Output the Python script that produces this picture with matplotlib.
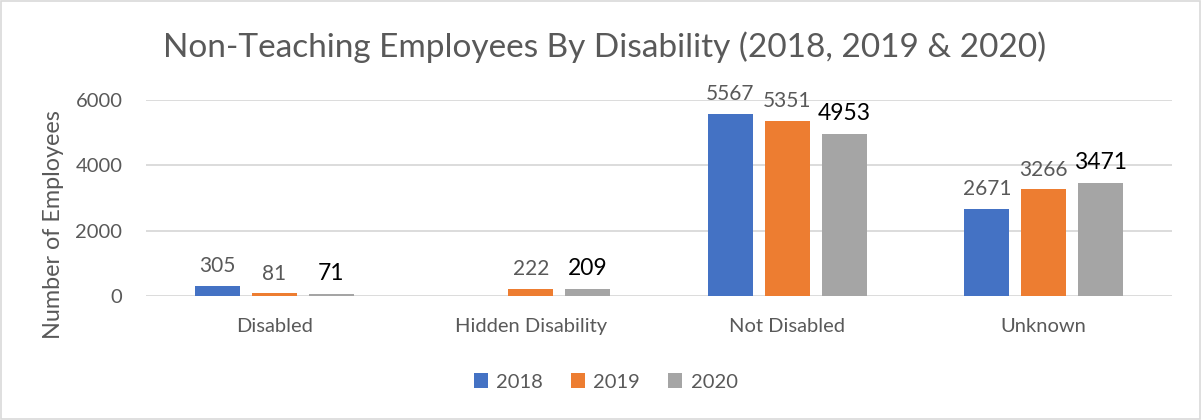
import numpy as np
import matplotlib.pyplot as plt
from matplotlib.patches import Rectangle

# Datos
categorias = ['Disabled', 'Hidden Disability', 'Not Disabled', 'Unknown']
anios = ['2018', '2019', '2020']
v2018 = [305, None, 5567, 2671]
v2019 = [81, 222, 5351, 3266]
v2020 = [71, 209, 4953, 3471]
colores = ['#4472C4', '#ED7D31', '#A5A5A5']

plt.rcParams['font.family'] = ['Lato', 'DejaVu Sans']
gris = '#595959'

fig = plt.figure(figsize=(12.02, 4.2), dpi=100)
ax = fig.add_axes([0.1215, 0.2952, 0.8535, 0.4668])

x = np.arange(len(categorias))
ancho = 0.175
paso = 0.222
series = [v2018, v2019, v2020]
for i, (vals, col, anio) in enumerate(zip(series, colores, anios)):
    pos = x + (i - 1) * paso
    alto = [v if v is not None else 0 for v in vals]
    ax.bar(pos, alto, width=ancho, color=col, label=anio, zorder=3)
    for p, v in zip(pos, vals):
        if v is None:
            continue
        if anio == '2020':
            ax.annotate(str(v), (p, v), xytext=(0, 7), textcoords='offset points',
                        ha='center', va='bottom', fontsize=16.5, color='black')
        else:
            ax.annotate(str(v), (p, v), xytext=(0, 7), textcoords='offset points',
                        ha='center', va='bottom', fontsize=15, color=gris)

ax.set_xlim(-0.5, 3.5)
ax.set_ylim(0, 6000)
ax.set_yticks([0, 2000, 4000, 6000])
ax.set_xticks(x)
ax.set_xticklabels(categorias)
ax.tick_params(axis='x', length=0, pad=16, labelsize=14.5, labelcolor=gris)
ax.tick_params(axis='y', length=0, pad=17, labelsize=14.5, labelcolor=gris)
ax.grid(axis='y', color='#D9D9D9', linewidth=1.3, zorder=0)
for s in ax.spines.values():
    s.set_visible(False)
ax.set_ylabel('Number of Employees', fontsize=16.8, color=gris)
ax.yaxis.set_label_coords(-0.08, 0.367)

fig.suptitle('Non-Teaching Employees By Disability (2018, 2019 & 2020)',
             fontsize=24, color=gris, x=0.503, y=0.888, va='center')

fig.legend(loc='center', bbox_to_anchor=(0.504, 1 - 382 / 420), ncol=3, frameon=False,
           fontsize=14.5, labelcolor=gris, handlelength=0.7, handleheight=0.7,
           handletextpad=0.4, columnspacing=1.4)

fig.patches.append(Rectangle((0.001, 0.002), 0.997, 0.995, transform=fig.transFigure,
                             fill=False, edgecolor='#D9D9D9', linewidth=1.2))

fig.savefig('out.png', dpi=100)
